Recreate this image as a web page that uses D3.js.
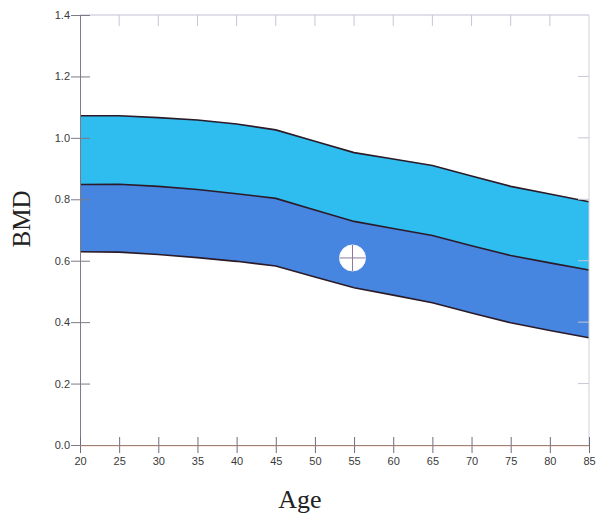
<!DOCTYPE html>
<html>
<head>
<meta charset="utf-8">
<script src="https://cdn.jsdelivr.net/npm/d3@7"></script>
<style>
  html, body { margin: 0; padding: 0; background: #ffffff; }
  svg { display: block; }
</style>
</head>
<body>
<svg id="chart" width="598" height="514"></svg>
<script>
// ---- data ----
const ages = [20, 25, 30, 35, 40, 45, 50, 55, 60, 65, 70, 75, 80, 85];
const upperBound = [1.072, 1.072, 1.066, 1.058, 1.045, 1.026, 0.989, 0.952, 0.931, 0.910, 0.876, 0.842, 0.817, 0.792];
const meanLine   = [0.848, 0.849, 0.842, 0.832, 0.818, 0.803, 0.765, 0.728, 0.705, 0.682, 0.649, 0.617, 0.593, 0.570];
const lowerBound = [0.629, 0.628, 0.620, 0.610, 0.598, 0.583, 0.547, 0.512, 0.488, 0.463, 0.430, 0.398, 0.373, 0.349];
const patient = { age: 54.8, bmd: 0.609 };
const xTicks = [20, 25, 30, 35, 40, 45, 50, 55, 60, 65, 70, 75, 80, 85];
const yTicks = [0.0, 0.2, 0.4, 0.6, 0.8, 1.0, 1.2, 1.4];
const xTitle = "Age";
const yTitle = "BMD";

// ---- layout ----
const svg = d3.select("#chart");
const L = 80, R = 589, T = 15, B = 445;
const x = d3.scaleLinear().domain([20, 85]).range([L, R]);
const y = d3.scaleLinear().domain([0, 1.4]).range([B, T]);

const rows = ages.map((a, i) => ({ a, u: upperBound[i], m: meanLine[i], l: lowerBound[i] }));

// bands
const areaUpper = d3.area().x(d => x(d.a)).y0(d => y(d.m)).y1(d => y(d.u));
const areaLower = d3.area().x(d => x(d.a)).y0(d => y(d.l)).y1(d => y(d.m));
svg.append("path").datum(rows).attr("d", areaUpper).attr("fill", "#2fbcef");
svg.append("path").datum(rows).attr("d", areaLower).attr("fill", "#4685e0");

// band outlines
const mk = key => d3.line().x(d => x(d.a)).y(d => y(d[key]));
["u", "m", "l"].forEach(k => {
  svg.append("path").datum(rows).attr("d", mk(k))
    .attr("fill", "none").attr("stroke", "#2b1b28").attr("stroke-width", 1.6);
});

// frame: top and right borders (light)
svg.append("line").attr("x1", L).attr("x2", R).attr("y1", T).attr("y2", T)
  .attr("stroke", "#c2bfd6").attr("stroke-width", 1);
svg.append("line").attr("x1", R).attr("x2", R).attr("y1", T).attr("y2", B)
  .attr("stroke", "#d0cfda").attr("stroke-width", 1);

// top ticks (inward)
svg.append("g").selectAll("line").data(xTicks.slice(1, -1)).join("line")
  .attr("x1", d => x(d)).attr("x2", d => x(d)).attr("y1", T).attr("y2", T + 11)
  .attr("stroke", "#c9c6d6").attr("stroke-width", 1);
// right ticks (inward)
svg.append("g").selectAll("line").data(yTicks.slice(1, -1)).join("line")
  .attr("x1", R - 11).attr("x2", R).attr("y1", d => y(d)).attr("y2", d => y(d))
  .attr("stroke", "#c9c6d6").attr("stroke-width", 1);

// left axis
const yAxis = d3.axisLeft(y).tickValues(yTicks).tickFormat(d3.format(".1f"))
  .tickSizeInner(-10).tickSizeOuter(0).tickPadding(19);
const gy = svg.append("g").attr("transform", `translate(${L},0)`).call(yAxis);
gy.select(".domain").attr("stroke", "#7d7a8a");
gy.selectAll(".tick line").attr("stroke", "#7d7a8a")
  .attr("x1", -9).attr("x2", 10);
gy.selectAll(".tick text").attr("font-family", "Arial, 'Liberation Sans', sans-serif")
  .attr("font-size", 11).attr("fill", "#3a3a3a").attr("x", -10);

// bottom axis
const xAxis = d3.axisBottom(x).tickValues(xTicks).tickFormat(d3.format("d"))
  .tickSizeInner(8).tickSizeOuter(0).tickPadding(5);
const gx = svg.append("g").attr("transform", `translate(0,${B})`).call(xAxis);
gx.select(".domain").attr("stroke", "#8a7a84");
gx.selectAll(".tick line").attr("stroke", "#6f6c80").attr("y1", -8).attr("y2", 8);
gx.selectAll(".tick text").attr("font-family", "Arial, 'Liberation Sans', sans-serif")
  .attr("font-size", 11).attr("fill", "#3a3a3a").attr("y", 12);
// faint orange tint along baseline
svg.append("line").attr("x1", L).attr("x2", R).attr("y1", B + 1).attr("y2", B + 1)
  .attr("stroke", "#e0a070").attr("stroke-width", 0.8).attr("opacity", 0.6);

// patient marker
const px = x(patient.age), py = y(patient.bmd), r = 13;
svg.append("circle").attr("cx", px).attr("cy", py).attr("r", r)
  .attr("fill", "#ffffff").attr("stroke", "#f4f4f8").attr("stroke-width", 1);
svg.append("line").attr("x1", px - r).attr("x2", px + r).attr("y1", py).attr("y2", py)
  .attr("stroke", "#8a7aa0").attr("stroke-width", 1);
svg.append("line").attr("x1", px).attr("x2", px).attr("y1", py - r).attr("y2", py + r)
  .attr("stroke", "#8a7aa0").attr("stroke-width", 1);

// titles
svg.append("text").attr("x", 300).attr("y", 508).attr("text-anchor", "middle")
  .attr("font-family", "'Liberation Serif', 'Times New Roman', serif")
  .attr("font-size", 26).attr("fill", "#222").text(xTitle);
svg.append("text").attr("transform", `translate(30,219) rotate(-90)`)
  .attr("text-anchor", "middle")
  .attr("font-family", "'Liberation Serif', 'Times New Roman', serif")
  .attr("font-size", 25).attr("fill", "#222").text(yTitle);
</script>
</body>
</html>
